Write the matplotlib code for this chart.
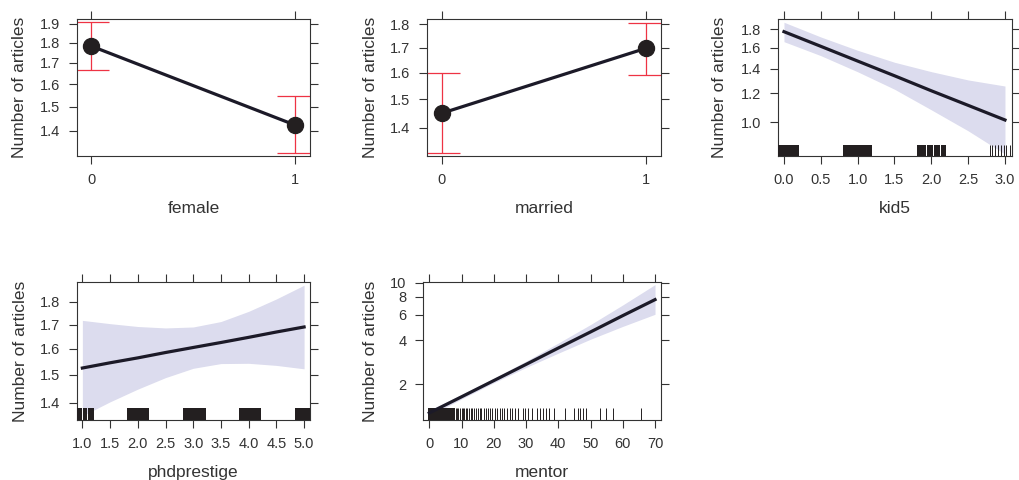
import matplotlib
matplotlib.use("Agg")
import matplotlib.pyplot as plt
import matplotlib.ticker as mticker

plt.rcParams['font.family'] = ['Liberation Sans', 'DejaVu Sans']

ylab = "Number of articles"

# factor effects (fit, lower, upper)
female_lv = [0, 1]
female_fit = [1.784, 1.424]
female_lo = [1.666, 1.314]
female_hi = [1.909, 1.546]

married_lv = [0, 1]
married_fit = [1.450, 1.698]
married_lo = [1.316, 1.591]
married_hi = [1.600, 1.807]

# continuous effects
kid5_x = [0, 0.5, 1, 1.5, 2, 2.5, 3]
kid5_fit = [1.770, 1.614, 1.471, 1.341, 1.220, 1.113, 1.015]
kid5_lo = [1.662, 1.522, 1.375, 1.232, 1.082, 0.948, 0.819]
kid5_hi = [1.878, 1.712, 1.574, 1.460, 1.376, 1.306, 1.257]
kid5_rug_blocks = [(-0.085, 0.204), (0.80, 1.20), (1.80, 1.93), (1.945, 2.02),
                   (2.035, 2.12), (2.135, 2.20)]
kid5_rug = [2.80, 2.83, 2.86, 2.90, 2.91, 2.95, 2.99, 3.01, 3.07]

phd_x = [1, 1.5, 2, 2.5, 3, 3.5, 4, 4.5, 5]
phd_fit = [1.526, 1.546, 1.565, 1.586, 1.606, 1.626, 1.647, 1.669, 1.690]
phd_lo = [1.355, 1.403, 1.448, 1.490, 1.525, 1.543, 1.544, 1.536, 1.523]
phd_hi = [1.718, 1.704, 1.692, 1.686, 1.690, 1.713, 1.757, 1.812, 1.875]
phd_rug_blocks = [(0.89, 0.99), (1.005, 1.04), (1.05, 1.08), (1.095, 1.21),
                  (1.81, 2.21), (2.81, 3.23), (3.82, 4.22), (4.83, 5.12)]
phd_rug = []

mentor_x = [0, 10, 20, 30, 40, 50, 60, 70]
mentor_fit = [1.27, 1.64, 2.12, 2.74, 3.55, 4.58, 5.93, 7.64]
mentor_lo = [1.213, 1.585, 2.048, 2.609, 3.273, 4.082, 5.000, 6.057]
mentor_hi = [1.328, 1.700, 2.197, 2.883, 3.841, 5.148, 7.024, 9.69]
mentor_rug_blocks = [(-0.5, 8.0)]
mentor_rug = [8.2, 8.6, 9.0, 9.5, 10.0, 10.4, 10.9, 11.3, 11.8, 12.2, 12.8, 13.3,
              13.9, 14.4, 15.0, 15.6, 16.1, 16.9, 17.5, 18.2, 18.9, 19.6, 20.3,
              21.0, 21.8, 22.6, 23.3, 24.1, 24.9, 25.8, 26.7, 27.5, 29.0, 29.6,
              30.5, 31.8, 33.4, 34.3, 35.2, 36.1, 37.2, 38.6, 42.0, 44.9, 46.0,
              46.8, 47.6, 48.6, 52.8, 54.9, 57.0, 65.8]

ink = '#333333'
dark = '#1c1a28'
band = '#dcdcee'


def style(ax, xlim, ylim, xticks, xlabels, yticks, ylabels, xlabel, ylab_x):
    ax.set_yscale('log')
    ax.set_xlim(*xlim)
    ax.set_ylim(*ylim)
    ax.set_xticks(xticks)
    ax.set_xticklabels(xlabels)
    ax.set_yticks(yticks)
    ax.set_yticklabels(ylabels)
    ax.yaxis.set_minor_locator(mticker.NullLocator())
    ax.tick_params(direction='out', length=6, width=0.8, color=ink,
                   labelsize=10.5, labelcolor=ink, top=True, right=True, pad=6)
    for s in ax.spines.values():
        s.set_color(ink)
        s.set_linewidth(0.8)
    ax.set_xlabel(xlabel, fontsize=12.5, color=ink, labelpad=10)
    ax.set_ylabel(ylab, fontsize=12.5, color=ink)
    ax.yaxis.set_label_coords(ylab_x, 0.5)


def rug(ax, ticks, blocks, h):
    tr = ax.get_xaxis_transform()
    if ticks:
        ax.vlines(ticks, 0, h, transform=tr, color='#231f20', lw=0.7, zorder=3)
    for a, b in blocks:
        ax.axvspan(a, b, 0, h, color='#231f20', lw=0, zorder=3)


def factor(ax, lv, fit, lo, hi):
    ax.errorbar(lv, fit, yerr=[[f - l for f, l in zip(fit, lo)], [h - f for f, h in zip(fit, hi)]],
                fmt='none', ecolor='#ee3344', elinewidth=0.9, capsize=13, capthick=0.9, zorder=2)
    ax.plot(lv, fit, color=dark, lw=2.3, marker='o', ms=11.5, mfc='#231f20', mec='#231f20', zorder=4)


def cont(ax, x, fit, lo, hi):
    ax.fill_between(x, lo, hi, color=band, lw=0, zorder=1)
    ax.plot(x, fit, color=dark, lw=2.3, zorder=4)


fig = plt.figure(figsize=(10.19, 4.8), dpi=100)

ax1 = fig.add_axes([0.0756, 0.675, 0.2287, 0.2854])
factor(ax1, female_lv, female_fit, female_lo, female_hi)
style(ax1, (-0.069, 1.074), (1.3036, 1.927), [0, 1], ['0', '1'],
      [1.4, 1.5, 1.6, 1.7, 1.8, 1.9], ['1.4', '1.5', '1.6', '1.7', '1.8', '1.9'],
      'female', -0.215)

ax2 = fig.add_axes([0.4190, 0.675, 0.2296, 0.2854])
factor(ax2, married_lv, married_fit, married_lo, married_hi)
style(ax2, (-0.072, 1.073), (1.307, 1.823), [0, 1], ['0', '1'],
      [1.4, 1.5, 1.6, 1.7, 1.8], ['1.4', '1.5', '1.6', '1.7', '1.8'],
      'married', -0.209)

ax3 = fig.add_axes([0.7635, 0.675, 0.2296, 0.2854])
cont(ax3, kid5_x, kid5_fit, kid5_lo, kid5_hi)
rug(ax3, kid5_rug, kid5_rug_blocks, 0.08)
style(ax3, (-0.081, 3.095), (0.809, 1.917), [0, 0.5, 1, 1.5, 2, 2.5, 3],
      ['0.0', '0.5', '1.0', '1.5', '2.0', '2.5', '3.0'],
      [1.0, 1.2, 1.4, 1.6, 1.8], ['1.0', '1.2', '1.4', '1.6', '1.8'],
      'kid5', -0.216)

ax4 = fig.add_axes([0.0756, 0.125, 0.2287, 0.2875])
cont(ax4, phd_x, phd_fit, phd_lo, phd_hi)
rug(ax4, phd_rug, phd_rug_blocks, 0.087)
style(ax4, (0.904, 5.108), (1.341, 1.890), [1, 1.5, 2, 2.5, 3, 3.5, 4, 4.5, 5],
      ['1.0', '1.5', '2.0', '2.5', '3.0', '3.5', '4.0', '4.5', '5.0'],
      [1.4, 1.5, 1.6, 1.7, 1.8], ['1.4', '1.5', '1.6', '1.7', '1.8'],
      'phdprestige', -0.212)

ax5 = fig.add_axes([0.4151, 0.125, 0.2336, 0.2875])
cont(ax5, mentor_x, mentor_fit, mentor_lo, mentor_hi)
rug(ax5, mentor_rug, mentor_rug_blocks, 0.087)
style(ax5, (-1.95, 71.86), (1.136, 10.1), [0, 10, 20, 30, 40, 50, 60, 70],
      ['0', '10', '20', '30', '40', '50', '60', '70'],
      [2, 4, 6, 8, 10], ['2', '4', '6', '8', '10'], 'mentor', -0.189)

fig.savefig('out.png', dpi=100)
plt.close()
